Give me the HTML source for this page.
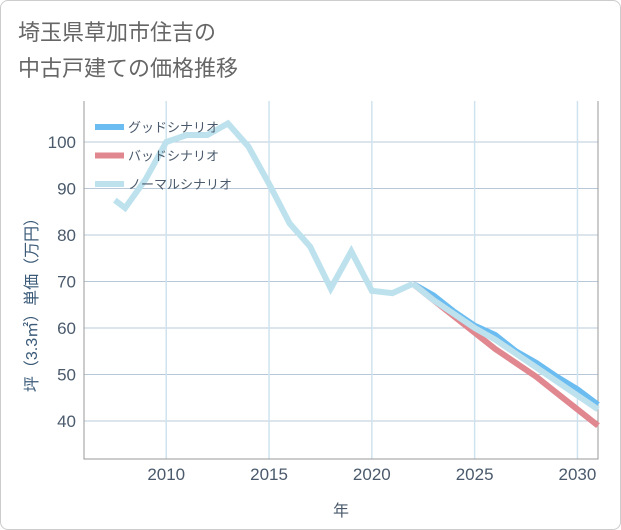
<!DOCTYPE html>
<html><head><meta charset="utf-8"><style>
body{margin:0;background:#fff;}
#wrap{position:relative;width:619px;height:528px;border:1px solid #ccc;border-radius:8px;overflow:hidden;font-family:"Liberation Sans","Noto Sans CJK JP",sans-serif;}
#title{position:absolute;left:17px;top:14px;font-size:22px;line-height:36px;color:#666;}
svg{position:absolute;left:0;top:0;}
</style></head><body>
<div id="wrap">
<div id="title">埼玉県草加市住吉の<br>中古戸建ての価格推移</div>
<svg id="c" width="621" height="530"></svg>
</div>
<script>
const years=[2007.5,2008,2009,2010,2011,2012,2013,2014,2015,2016,2017,2018,2019,2020,2021,2022];
const normalHist=[87.5,85.8,92,100,101.5,101.5,104,99,91,82.5,77.5,68.5,76.5,68,67.5,69.5];
const futYears=[2022,2023,2024,2025,2026,2027,2028,2029,2030,2031];
const good=[69.5,67,63.5,60.5,58.5,55,52.5,49.5,46.8,43.5];
const bad=[69.5,66,62.5,59,55.5,52.5,49.5,46,42.5,39];
const normal=[69.5,66,63,60,57.5,54.5,51.5,48.5,45.5,42.5];
const yTicks=[40,50,60,70,80,90,100];
const xTicks=[2010,2015,2020,2025,2030];
const L=83,R=597,T=100,B=458;
const x=v=>L+(v-2006)*(R-L)/25;
const y=v=>141+(100-v)*(420-141)/60;
const s=document.getElementById('c');const NS='http://www.w3.org/2000/svg';
function mk(t,a,p){const e=document.createElementNS(NS,t);for(const k in a)e.setAttribute(k,a[k]);(p||s).appendChild(e);return e;}
yTicks.forEach(v=>{const l=mk('line',{x1:L,x2:R,y1:y(v),y2:y(v),stroke:'#b8c8d8','stroke-width':1});

const t=mk('text',{x:L-8,y:y(v)+6,'text-anchor':'end','font-size':17,fill:'#4a5a6c'});t.textContent=v;
});
xTicks.forEach(v=>{const l=mk('line',{x1:x(v),x2:x(v),y1:T,y2:B,stroke:'#cfe3ee','stroke-width':1.5});

const t=mk('text',{x:x(v),y:B+21,'text-anchor':'middle','font-size':17,fill:'#4a5a6c'});t.textContent=v;
});
const ax=mk('path',{d:`M${L} ${T}V${B}H${R}V${T}`,fill:'none',stroke:'#999','stroke-width':1});

function line(xs,vs,col,w,name){const p=mk('polyline',{points:xs.map((v,i)=>x(v)+','+y(vs[i])).join(' '),fill:'none',stroke:col,'stroke-width':w,'stroke-linejoin':'miter'});
}
line(futYears,good,'#6bbcf0',6,'good-scenario-line');
line(futYears,bad,'#e0878f',6,'bad-scenario-line');
line(futYears,normal,'#bde2ee',6,'normal-scenario-line');
line(years,normalHist,'#bde2ee',6,'history-line');
const leg=[['グッドシナリオ','#6bbcf0'],['バッドシナリオ','#e0878f'],['ノーマルシナリオ','#bde2ee']];
leg.forEach((e,i)=>{const yy=126+i*28.5;
const l=mk('line',{x1:94,x2:123,y1:yy,y2:yy,stroke:e[1],'stroke-width':6});

const t=mk('text',{x:127,y:yy+5,'font-size':13,fill:'#4a5a6c'});t.textContent=e[0];
});
const xt=mk('text',{x:340,y:515,'text-anchor':'middle','font-size':16,fill:'#4a5a6c'});xt.textContent='年';

const yt=mk('text',{x:0,y:0,'text-anchor':'middle','font-size':16,fill:'#3a5a78',transform:'translate(36,300) rotate(-90)'});yt.textContent='坪（3.3㎡）単価（万円）';

</script>
</body></html>
